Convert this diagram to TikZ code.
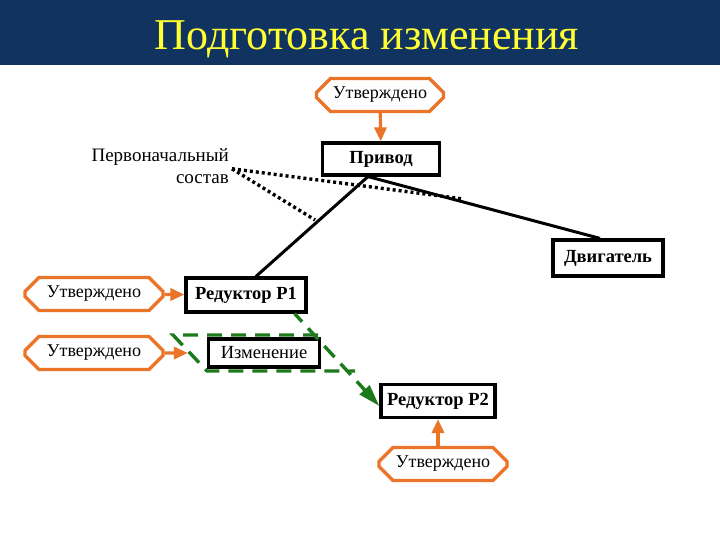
\documentclass[tikz,border=0pt]{standalone}
\usepackage{fontspec}
\setmainfont{Liberation Serif}
\usepackage{tikz}
\usetikzlibrary{calc, positioning, shapes.misc, arrows.meta}
\definecolor{cBar}{HTML}{10345F}
\definecolor{cTitle}{HTML}{FFFF33}
\definecolor{cOk}{HTML}{EA7427}
\definecolor{cChg}{HTML}{1C7A1C}

\begin{document}
\begin{tikzpicture}[x=1pt, y=-1pt,
  font=\fontsize{18}{20}\selectfont,
  part/.style={draw, fill=white, line width=3.2pt, inner sep=0pt, minimum height=32pt, font=\fontsize{18.5}{20}\selectfont\bfseries},
  okbox/.style={chamfered rectangle, chamfered rectangle xsep=7pt, chamfered rectangle ysep=7pt,
                draw=cOk, line width=3.2pt, inner sep=0pt, minimum height=33pt},
  ok/.style={-{Triangle[length=14pt,width=12pt]}, line width=3.2pt, draw=cOk, fill=cOk},
  link/.style={line width=3pt, draw=black},
  orig/.style={line width=3.4pt, dash pattern=on 3pt off 3pt},
  chg/.style={line width=3.4pt, draw=cChg, dash pattern=on 15pt off 9pt}
]
\useasboundingbox (0,0) rectangle (720,540);
\fill[cBar] (0,0) rectangle (720,65);
\node[text=cTitle, font=\fontsize{44}{48}\selectfont] (title) at (367,39) {Подготовка изменения};

% change area (under the boxes)
\draw[chg] (318,335) -- (173,335) -- (207,371) -- (355,371);

% parts
\node[part, minimum width=117pt] (drive) at (381,159) {Привод};
\node[part, minimum width=110pt, minimum height=36pt] (motor) at (608,258) {Двигатель};
\node[part, minimum width=120pt, minimum height=34pt] (red1) at (246,295) {Редуктор P1};
\node[part, minimum width=111pt, minimum height=28pt, font=\fontsize{18.5}{20}\selectfont] (izm) at (264,353) {Изменение};
\node[part, minimum width=114pt, minimum height=33pt] (red2) at (438,401) {Редуктор P2};

% approvals
\node[okbox, minimum width=127pt] (appr1) at (380,95) {Утверждено};
\node[okbox, minimum width=138pt] (appr2) at (94,294) {Утверждено};
\node[okbox, minimum width=138pt] (appr3) at (94,353) {Утверждено};
\node[okbox, minimum width=128pt] (appr4) at (443,464) {Утверждено};

\node[align=right, anchor=north east, inner sep=0pt, font=\fontsize{19}{22}\selectfont] (base) at (229,148)
  {Первоначальный\\состав};

% structure links
\coordinate (hub) at ([xshift=-13pt]drive.south);
\draw[link] (hub) -- ([xshift=10pt]red1.north) coordinate[pos=0.45] (onred);
\draw[link] (hub) -- ([xshift=-8pt]motor.north) coordinate[pos=0.41] (onmot);
\coordinate (basept) at ([xshift=3pt, yshift=-3pt]base.east);
\draw[orig] (basept) -- ([yshift=3pt]onmot);
\draw[orig, shorten >=3pt] (basept) -- (onred);

% approval arrows
\draw[ok] (appr1) -- (drive);
\draw[ok] (appr2) -- (red1);
\draw[ok, shorten >=19pt] (appr3) -- (izm);
\draw[ok] (appr4.north -| red2.south) -- (red2.south);

% change arrow
\draw[chg, -{Triangle[length=22pt,width=13pt]}, dash phase=4pt] ([xshift=-13pt]red1.south east) -- ([yshift=-5pt]red2.west);
\end{tikzpicture}
\end{document}
